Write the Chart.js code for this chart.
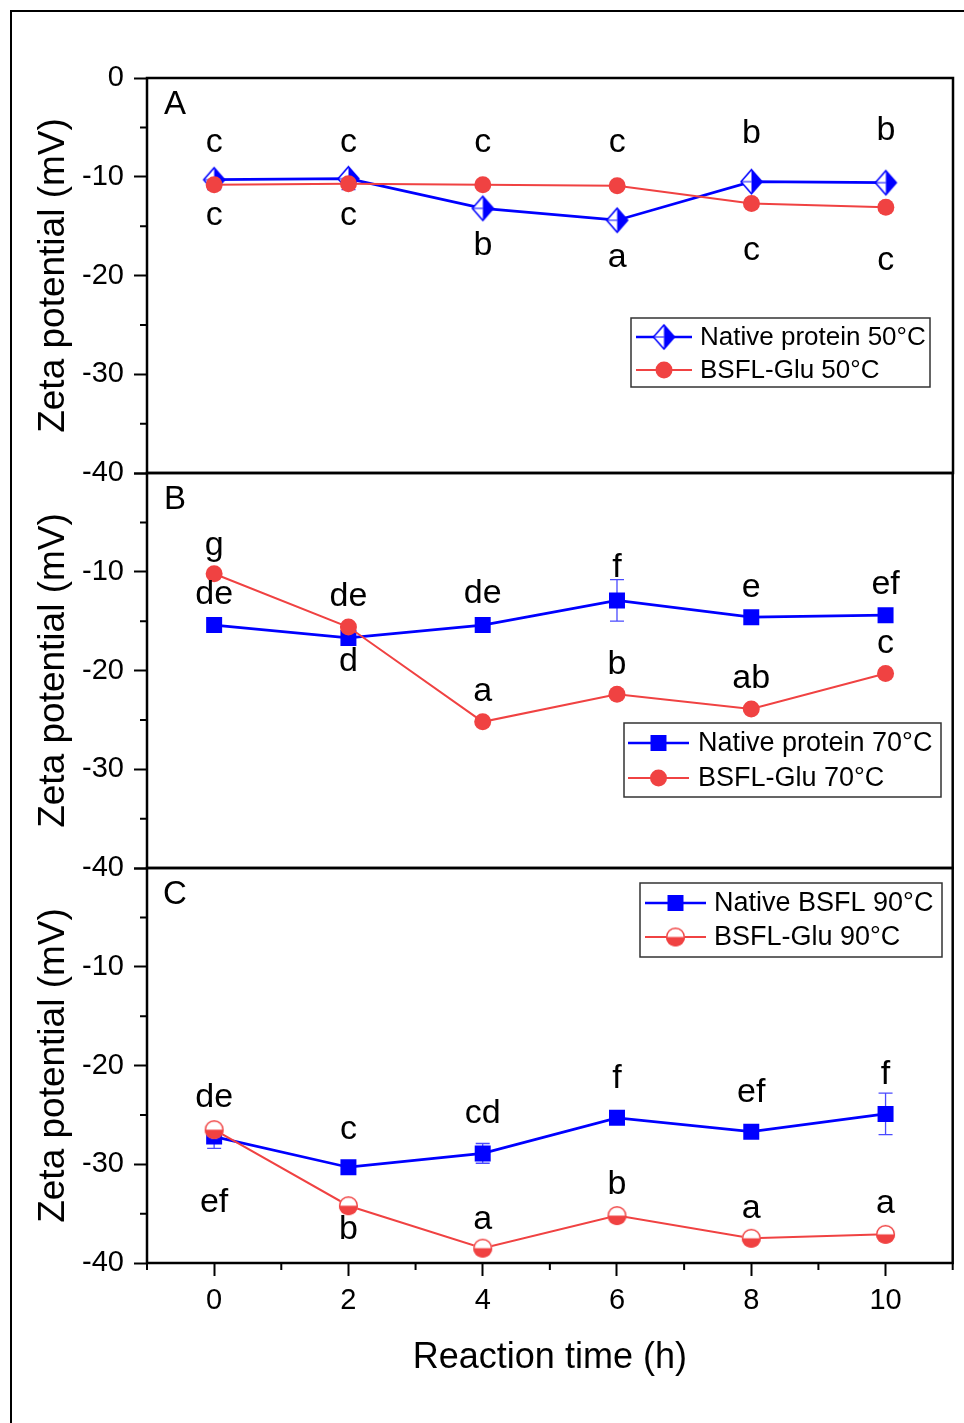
<!DOCTYPE html>
<html>
<head>
<meta charset="utf-8">
<script src="https://cdn.jsdelivr.net/npm/chart.js@4.4.1/dist/chart.umd.min.js"></script>
<style>
  html, body { margin: 0; padding: 0; background: #fff; }
  #wrap { position: relative; width: 964px; height: 1423px; overflow: hidden; }
  #wrap canvas { position: absolute; left: 0; top: 0; }
  #frame { position: absolute; left: 10px; top: 10px; width: 1000px; height: 1500px;
           border-left: 2px solid #000; border-top: 2px solid #000; }
</style>
</head>
<body>
<div id="wrap">
  <div id="frame"></div>
  <canvas id="cA" width="964" height="1423"></canvas>
  <canvas id="cB" width="964" height="1423"></canvas>
  <canvas id="cC" width="964" height="1423"></canvas>
</div>
<script>
const FONT = "'Liberation Sans', Arial, sans-serif";
const BLUE = '#0000FF';
const RED = '#F04242';

// data
const times = [0, 2, 4, 6, 8, 10];
const xTicks = [0, 2, 4, 6, 8, 10];
const xMinorTicks = [-1, 1, 3, 5, 7, 9, 11];
const yTicks = [0, -10, -20, -30, -40];
const yMinorTicks = [-5, -15, -25, -35];

const native50 = [-10.3, -10.2, -13.2, -14.4, -10.5, -10.6];
const native50Err = [0.3, 0.3, 0.3, 0.3, 0.3, 0.3];
const native50Letters = ['c', 'c', 'b', 'a', 'b', 'b'];
const glu50 = [-10.8, -10.7, -10.8, -10.9, -12.7, -13.1];
const glu50Err = [0.5, 0.6, 0.3, 0.3, 0.3, 0.3];
const glu50Letters = ['c', 'c', 'c', 'c', 'c', 'c'];

const native70 = [-15.4, -16.7, -15.4, -12.9, -14.6, -14.4];
const native70Err = [0.4, 0.4, 0.4, 2.1, 0.4, 0.4];
const native70Letters = ['de', 'd', 'de', 'f', 'e', 'ef'];
const glu70 = [-10.2, -15.6, -25.2, -22.4, -23.9, -20.3];
const glu70Err = [0.3, 0.3, 0.3, 0.3, 0.3, 0.3];
const glu70Letters = ['g', 'de', 'a', 'b', 'ab', 'c'];

const native90 = [-27.2, -30.3, -28.9, -25.3, -26.7, -24.9];
const native90Err = [1.2, 0.4, 1.0, 0.4, 0.4, 2.1];
const native90Letters = ['de', 'c', 'cd', 'f', 'ef', 'f'];
const glu90 = [-26.5, -34.2, -38.5, -35.2, -37.5, -37.1];
const glu90Err = [0.4, 0.4, 0.3, 0.4, 0.3, 0.3];
const glu90Letters = ['ef', 'b', 'a', 'b', 'a', 'a'];

// marker images
function halfDiamond(rx, ry, color) {
  const c = document.createElement('canvas');
  c.width = 2 * rx + 4; c.height = 2 * ry + 4;
  const g = c.getContext('2d');
  const mx = c.width / 2, my = c.height / 2;
  g.beginPath();
  g.moveTo(mx, my - ry); g.lineTo(mx + rx, my); g.lineTo(mx, my + ry); g.lineTo(mx - rx, my);
  g.closePath();
  g.fillStyle = '#fff'; g.fill();
  g.save(); g.clip(); g.fillStyle = color; g.fillRect(mx, 0, c.width, c.height); g.restore();
  g.strokeStyle = color; g.lineWidth = 1.5; g.stroke();
  g.beginPath(); g.moveTo(mx - rx, my); g.lineTo(mx, my); g.lineWidth = 1; g.stroke();
  return c;
}
function halfCircle(r, color) {
  const c = document.createElement('canvas');
  c.width = c.height = 2 * r + 4;
  const g = c.getContext('2d');
  const m = c.width / 2;
  g.beginPath(); g.arc(m, m, r, 0, 2 * Math.PI); g.fillStyle = '#fff'; g.fill();
  g.beginPath(); g.arc(m, m, r, 0, Math.PI); g.closePath(); g.fillStyle = color; g.fill();
  g.beginPath(); g.arc(m, m, r - 0.7, 0, 2 * Math.PI);
  g.strokeStyle = color; g.lineWidth = 1.4; g.stroke();
  return c;
}
const diamondImg = halfDiamond(10.5, 12, BLUE);
const halfCircleImg = halfCircle(9.5, RED);

const panels = {
  cA: {
    top: 78, bottom: 473, showX: false, tag: 'A', yLabels: [0, -10, -20, -30, -40],
    legend: { x: 631, y: 318, w: 299, h: 69, rows: [337, 370], line: [636, 692], textX: 700, size: 26 },
    series: [
      { name: 'Native protein 50°C', values: native50, err: native50Err, letters: native50Letters,
        dy: [-37, -36, 37, 37, -48, -52], color: BLUE, errColor: '#4a4aff', lw: 2.7, point: diamondImg, radius: 11 },
      { name: 'BSFL-Glu 50°C', values: glu50, err: glu50Err, letters: glu50Letters,
        dy: [31, 32, -42, -43, 47, 53], color: RED, errColor: '#3a3aff', lw: 2, point: 'circle', radius: 8.5 }
    ]
  },
  cB: {
    top: 473, bottom: 868, showX: false, tag: 'B', yLabels: [-10, -20, -30, -40],
    legend: { x: 624, y: 723, w: 317, h: 74, rows: [743, 778], line: [628, 689], textX: 698, size: 27 },
    series: [
      { name: 'Native protein 70°C', values: native70, err: native70Err, letters: native70Letters,
        dy: [-30, 24, -31, -33, -30, -31], color: BLUE, errColor: '#4a4aff', lw: 2.7, point: 'rect', radius: 11.3 },
      { name: 'BSFL-Glu 70°C', values: glu70, err: glu70Err, letters: glu70Letters,
        dy: [-28, -30, -30, -30, -30, -30], color: RED, errColor: RED, lw: 2, point: 'circle', radius: 8.5 }
    ]
  },
  cC: {
    top: 868, bottom: 1263, showX: true, tag: 'C', yLabels: [-10, -20, -30, -40],
    legend: { x: 640, y: 883, w: 302, h: 74, rows: [903, 937], line: [645, 706], textX: 714, size: 27 },
    series: [
      { name: 'Native BSFL 90°C', values: native90, err: native90Err, letters: native90Letters,
        dy: [-39, -38, -40, -39, -39, -39], color: BLUE, errColor: '#4a4aff', lw: 2.7, point: 'rect', radius: 11.3 },
      { name: 'BSFL-Glu 90°C', values: glu90, err: glu90Err, letters: glu90Letters,
        dy: [73, 24, -29, -31, -30, -31], color: RED, errColor: RED, lw: 2, point: halfCircleImg, radius: 9.5 }
    ]
  }
};

const extras = {
  id: 'extras',
  beforeDatasetsDraw(chart) {
    const p = panels[chart.canvas.id];
    const { ctx } = chart, xs = chart.scales.x, ys = chart.scales.y;
    ctx.save();
    ctx.lineWidth = 1.3;
    p.series.forEach(s => {
      ctx.strokeStyle = s.errColor;
      s.err.forEach((e, i) => {
        const px = xs.getPixelForValue(times[i]);
        const y1 = ys.getPixelForValue(s.values[i] + e);
        const y2 = ys.getPixelForValue(s.values[i] - e);
        ctx.beginPath();
        ctx.moveTo(px, y1); ctx.lineTo(px, y2);
        ctx.moveTo(px - 7, y1); ctx.lineTo(px + 7, y1);
        ctx.moveTo(px - 7, y2); ctx.lineTo(px + 7, y2);
        ctx.stroke();
      });
    });
    ctx.restore();
  },
  afterDatasetsDraw(chart) {
    const p = panels[chart.canvas.id];
    const { ctx, chartArea: a } = chart, xs = chart.scales.x, ys = chart.scales.y;
    ctx.save();
    // significance letters
    ctx.fillStyle = '#000';
    ctx.font = `34px ${FONT}`;
    ctx.textAlign = 'center';
    ctx.textBaseline = 'middle';
    p.series.forEach(s => {
      s.letters.forEach((t, i) => {
        ctx.fillText(t, xs.getPixelForValue(times[i]), ys.getPixelForValue(s.values[i]) + s.dy[i]);
      });
    });
    // panel tag
    ctx.font = `33px ${FONT}`;
    ctx.fillText(p.tag, a.left + 28, a.top + 27);
    // frame
    ctx.strokeStyle = '#000';
    ctx.lineWidth = 2.5;
    ctx.strokeRect(a.left, a.top, a.right - a.left, a.bottom - a.top);
    // minor ticks
    ctx.lineWidth = 2;
    ctx.beginPath();
    yMinorTicks.forEach(v => {
      const py = ys.getPixelForValue(v);
      ctx.moveTo(a.left - 7, py); ctx.lineTo(a.left, py);
    });
    if (p.showX) {
      xMinorTicks.forEach(v => {
        const px = xs.getPixelForValue(v);
        ctx.moveTo(px, a.bottom); ctx.lineTo(px, a.bottom + 7);
      });
    }
    ctx.stroke();
    // legend
    const L = p.legend;
    ctx.fillStyle = '#fff';
    ctx.fillRect(L.x, L.y, L.w, L.h);
    ctx.strokeStyle = '#333';
    ctx.lineWidth = 1.5;
    ctx.strokeRect(L.x, L.y, L.w, L.h);
    ctx.font = `${L.size}px ${FONT}`;
    ctx.textAlign = 'left';
    p.series.forEach((s, k) => {
      const ry = L.rows[k];
      ctx.strokeStyle = s.color;
      ctx.lineWidth = s.lw;
      ctx.beginPath(); ctx.moveTo(L.line[0], ry); ctx.lineTo(L.line[1], ry); ctx.stroke();
      ctx.fillStyle = s.color;
      Chart.helpers.drawPoint(ctx, { pointStyle: s.point, radius: s.radius, borderWidth: 0, rotation: 0 },
        (L.line[0] + L.line[1]) / 2, ry);
      ctx.fillStyle = '#000';
      ctx.fillText(s.name, L.textX, ry + 1);
    });
    ctx.restore();
  }
};

function build(id) {
  const p = panels[id];
  const axisTicks = { font: { family: FONT, size: 29 }, color: '#000' };
  const grid = { drawOnChartArea: false, drawTicks: true, tickLength: 13, tickWidth: 2, tickColor: '#000' };
  return new Chart(document.getElementById(id), {
    type: 'line',
    data: {
      datasets: p.series.slice().reverse().map(s => ({
        label: s.name,
        data: times.map((t, i) => ({ x: t, y: s.values[i] })),
        borderColor: s.color,
        backgroundColor: s.color,
        borderWidth: s.lw,
        pointStyle: s.point,
        pointRadius: s.radius,
        pointBorderWidth: 0,
        tension: 0,
        fill: false
      }))
    },
    options: {
      responsive: false,
      animation: false,
      events: [],
      layout: { padding: { left: 0, right: 7, top: p.top, bottom: p.showX ? 39 : 1423 - p.bottom } },
      plugins: { legend: { display: false }, tooltip: { enabled: false } },
      scales: {
        x: {
          type: 'linear', min: -1, max: 11, display: p.showX,
          afterFit: s => { s.height = p.showX ? 121 : 0; },
          afterBuildTicks: s => { s.ticks = xTicks.map(v => ({ value: v })); },
          ticks: { ...axisTicks, padding: 8, maxRotation: 0, autoSkip: false },
          grid: grid,
          border: { display: false },
          title: { display: true, text: 'Reaction time (h)', color: '#000',
                   font: { family: FONT, size: 36 }, padding: { top: 0, bottom: 4 } }
        },
        y: {
          min: -40, max: 0,
          afterFit: s => { s.width = 147; },
          afterBuildTicks: s => { s.ticks = yTicks.map(v => ({ value: v })); },
          ticks: { ...axisTicks, padding: 10, callback: v => p.yLabels.includes(v) ? String(v) : '' },
          grid: grid,
          border: { display: false },
          title: { display: true, text: 'Zeta potential (mV)', color: '#000',
                   font: { family: FONT, size: 37 }, padding: { top: 32, bottom: 0 } }
        }
      }
    },
    plugins: [extras]
  });
}

['cA', 'cB', 'cC'].forEach(build);
</script>
</body>
</html>
